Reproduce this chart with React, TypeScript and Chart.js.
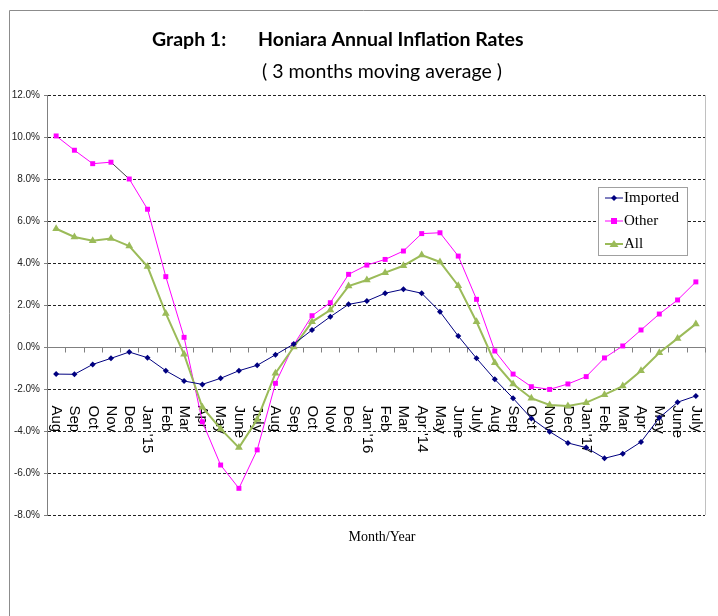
import React, { useEffect, useRef } from 'react';
import { Chart, registerables } from 'chart.js';
Chart.register(...registerables);

const months = ['Aug', 'Sep', 'Oct', 'Nov', 'Dec', "Jan '15", 'Feb', 'Mar', 'Apr', 'May', 'June', 'July',
  'Aug', 'Sep', 'Oct', 'Nov', 'Dec', "Jan '16", 'Feb', 'Mar', "Apr '14", 'May', 'June', 'July',
  'Aug', 'Sep', 'Oct', 'Nov', 'Dec', "Jan '17", 'Feb', 'Mar', 'Apr', 'May', 'June', 'July'];

const imported = [-1.29, -1.30, -0.83, -0.54, -0.24, -0.51, -1.13, -1.62, -1.78, -1.49, -1.13, -0.87,
  -0.37, 0.14, 0.81, 1.44, 2.03, 2.19, 2.56, 2.75, 2.56, 1.68, 0.52, -0.54,
  -1.54, -2.44, -3.40, -4.03, -4.57, -4.79, -5.30, -5.08, -4.52, -3.37, -2.63, -2.33];

const other = [10.05, 9.37, 8.73, 8.80, 8.00, 6.56, 3.35, 0.46, -3.56, -5.62, -6.73, -4.90,
  -1.73, 0.10, 1.49, 2.11, 3.46, 3.90, 4.17, 4.57, 5.40, 5.44, 4.33, 2.27,
  -0.19, -1.29, -1.89, -2.02, -1.76, -1.41, -0.52, 0.05, 0.81, 1.57, 2.24, 3.10];

const all = [5.63, 5.24, 5.06, 5.17, 4.81, 3.83, 1.60, -0.35, -2.87, -3.90, -4.79, -3.45,
  -1.25, 0.00, 1.20, 1.76, 2.90, 3.19, 3.54, 3.87, 4.38, 4.05, 2.92, 1.20,
  -0.75, -1.76, -2.44, -2.76, -2.81, -2.65, -2.27, -1.86, -1.13, -0.27, 0.41, 1.10];

const seriesNames = ['Imported', 'Other', 'All'];
const yMin = -8;
const yMax = 12;
const yStep = 2;

const titleMain = 'Graph 1:';
const titleText = 'Honiara Annual Inflation Rates';
const subtitle = '( 3 months moving average )';
const xTitle = 'Month/Year';

const NAVY = '#000080';
const MAGENTA = '#FF00FF';
const GREEN = '#9BBB59';

const decorPlugin = {
  id: 'decor',
  beforeDraw(chart: any) {
    const ctx = chart.ctx;
    ctx.save();
    ctx.strokeStyle = '#8c8c8c';
    ctx.lineWidth = 1;
    ctx.beginPath();
    ctx.moveTo(9.5, 10.5);
    ctx.lineTo(chart.width, 10.5);
    ctx.moveTo(9.5, 10.5);
    ctx.lineTo(9.5, chart.height);
    ctx.stroke();

    ctx.fillStyle = '#000';
    ctx.textBaseline = 'middle';
    ctx.textAlign = 'left';
    ctx.font = 'bold 19.5px Lato, "Open Sans", sans-serif';
    ctx.fillText(titleMain, 152, 40);
    ctx.fillText(titleText, 258, 40);
    ctx.font = '19.5px Lato, "Open Sans", sans-serif';
    ctx.fillText(subtitle, 262, 72);

    ctx.font = '14px "Liberation Serif", serif';
    ctx.textAlign = 'center';
    ctx.fillText(xTitle, 382, 537);
    ctx.restore();
  },
  beforeDatasetsDraw(chart: any) {
    const ctx = chart.ctx;
    const a = chart.chartArea;
    const x = chart.scales.x;
    const y = chart.scales.y;
    const y0 = Math.round(y.getPixelForValue(0)) + 0.5;
    ctx.save();
    ctx.strokeStyle = '#c0c0c0';
    ctx.lineWidth = 1;
    ctx.beginPath();
    ctx.moveTo(Math.round(a.right) + 0.5, a.top);
    ctx.lineTo(Math.round(a.right) + 0.5, a.bottom);
    ctx.stroke();
    ctx.strokeStyle = '#808080';
    ctx.beginPath();
    ctx.moveTo(a.left, y0);
    ctx.lineTo(a.right, y0);
    const n = months.length;
    const step = x.getPixelForValue(1) - x.getPixelForValue(0);
    for (let i = 0; i <= n; i++) {
      const px = i < n ? x.getPixelForValue(i) - step / 2 : x.getPixelForValue(n - 1) + step / 2;
      const rx = Math.round(px) + 0.5;
      ctx.moveTo(rx, y0);
      ctx.lineTo(rx, y0 + 5);
    }
    ctx.stroke();
    ctx.fillStyle = '#000';
    ctx.font = '15px "Liberation Sans", Arial, sans-serif';
    ctx.textAlign = 'left';
    ctx.textBaseline = 'middle';
    const top = y0 + 58;
    months.forEach((m, i) => {
      const px = x.getPixelForValue(i);
      ctx.save();
      ctx.translate(px, top);
      ctx.rotate(Math.PI / 2);
      ctx.fillText(m, 0, 0);
      ctx.restore();
    });
    ctx.restore();
  },
  afterDraw(chart: any) {
    const ctx = chart.ctx;
    ctx.save();
    const bx = 598.5, by = 187.5, bw = 89, bh = 68;
    ctx.fillStyle = '#fff';
    ctx.fillRect(bx, by, bw, bh);
    ctx.strokeStyle = '#a0a0a0';
    ctx.lineWidth = 1;
    ctx.strokeRect(bx, by, bw, bh);
    const rows = [198, 221, 244];
    ctx.font = '15px "Liberation Serif", serif';
    ctx.textBaseline = 'middle';
    ctx.textAlign = 'left';
    chart.data.datasets.forEach((ds: any, i: number) => {
      const ry = rows[i];
      ctx.strokeStyle = ds.borderColor;
      ctx.lineWidth = ds.borderWidth;
      ctx.beginPath();
      ctx.moveTo(605, ry);
      ctx.lineTo(623, ry);
      ctx.stroke();
      ctx.fillStyle = ds.pointBackgroundColor;
      ctx.beginPath();
      const cx = 614;
      if (ds.pointStyle === 'rectRot') {
        const r = 3;
        ctx.moveTo(cx, ry - r); ctx.lineTo(cx + r, ry); ctx.lineTo(cx, ry + r); ctx.lineTo(cx - r, ry);
      } else if (ds.pointStyle === 'rect') {
        ctx.rect(cx - 3, ry - 3, 6, 6);
      } else {
        ctx.moveTo(cx, ry - 4); ctx.lineTo(cx + 4.5, ry + 3); ctx.lineTo(cx - 4.5, ry + 3);
      }
      ctx.closePath();
      ctx.fill();
      ctx.fillStyle = '#000';
      ctx.fillText(ds.label, 624, ry);
    });
    ctx.restore();
  },
};

export default function App() {
  const ref = useRef<HTMLCanvasElement>(null);
  useEffect(() => {
    if (!ref.current) return;
    const chart = new Chart(ref.current, {
      type: 'line',
      data: {
        labels: months,
        datasets: [
          {
            label: seriesNames[0], data: imported, borderColor: NAVY, backgroundColor: NAVY,
            pointBackgroundColor: NAVY, pointBorderColor: NAVY, borderWidth: 1,
            pointStyle: 'rectRot', pointRadius: 3, pointBorderWidth: 0, tension: 0, order: 1,
          },
          {
            label: seriesNames[1], data: other, borderColor: MAGENTA, backgroundColor: MAGENTA,
            pointBackgroundColor: MAGENTA, pointBorderColor: MAGENTA, borderWidth: 1,
            pointStyle: 'rect', pointRadius: 3.5, pointBorderWidth: 0, tension: 0, order: 3,
            segment: { borderColor: (c: any) => (c.p0DataIndex === 3 ? '#404040' : undefined) },
          },
          {
            label: seriesNames[2], data: all, borderColor: GREEN, backgroundColor: GREEN,
            pointBackgroundColor: GREEN, pointBorderColor: GREEN, borderWidth: 2,
            pointStyle: 'triangle', pointRadius: 4.5, pointBorderWidth: 0, tension: 0, order: 2,
          },
        ],
      },
      options: {
        responsive: false,
        animation: false,
        layout: { padding: { left: 0, top: 95, right: 13, bottom: 101 } },
        plugins: { legend: { display: false }, title: { display: false }, tooltip: { enabled: false } },
        scales: {
          x: { type: 'category', display: false, offset: true },
          y: {
            min: yMin, max: yMax,
            afterFit: (s: any) => { s.width = 47; },
            ticks: {
              stepSize: yStep,
              padding: 4,
              color: '#222',
              font: { family: '"Liberation Sans Narrow", "Liberation Sans", Arial, sans-serif', size: 10 },
              callback: (v: any) => Number(v).toFixed(1) + '%',
            },
            grid: {
              color: (c: any) => (c.tick && c.tick.value === 0 ? 'rgba(0,0,0,0)' : '#222'),
              tickColor: '#808080',
              tickLength: 3,
              lineWidth: 1,
            },
            border: { display: true, color: '#808080', width: 1, dash: [3, 2] },
          },
        },
      },
      plugins: [decorPlugin],
    });
    return () => chart.destroy();
  }, []);
  return (
    <canvas
      ref={ref}
      width={718}
      height={616}
      style={{ display: 'block', position: 'fixed', left: 0, top: 0 }}
    />
  );
}
